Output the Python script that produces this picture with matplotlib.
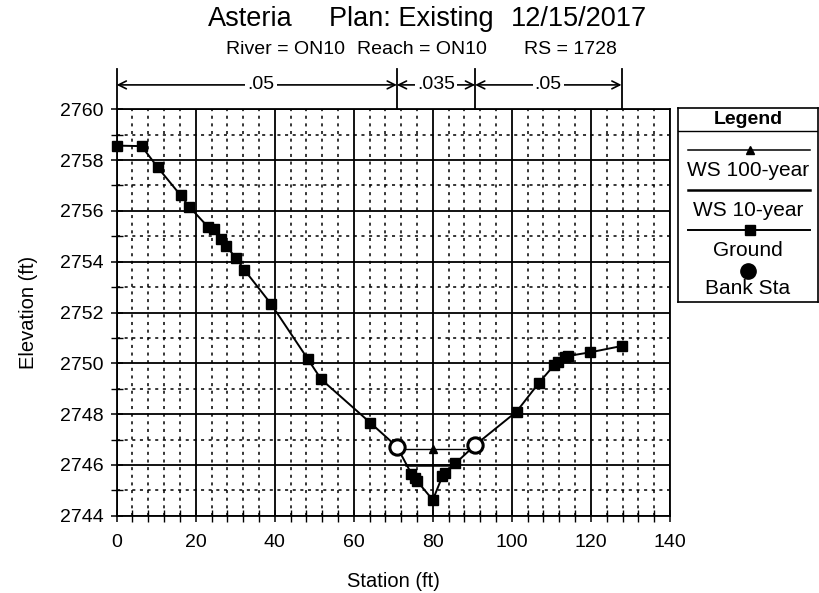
import matplotlib
matplotlib.use('Agg')
import matplotlib.pyplot as plt
from matplotlib.ticker import MultipleLocator
import matplotlib.transforms as mtransforms

plt.rcParams['font.family'] = ['Liberation Sans', 'DejaVu Sans']

# Ground profile (station, elevation)
ground_sta = [0, 6.3, 10.4, 16.2, 18.4, 23.1, 24.6, 26.3, 27.6, 30.3, 32.25, 39.0,
              48.4, 51.75, 64.1, 70.9, 74.6, 75.4, 76.1, 80.0, 82.4, 83.2, 85.7,
              90.7, 101.2, 106.8, 110.7, 111.7, 113.5, 114.3, 119.7, 127.75]
ground_elev = [2758.57, 2758.55, 2757.71, 2756.61, 2756.16, 2755.37, 2755.27, 2754.91,
               2754.63, 2754.13, 2753.69, 2752.35, 2750.16, 2749.37, 2747.67, 2746.72,
               2745.65, 2745.5, 2745.35, 2744.62, 2745.55, 2745.7, 2746.06, 2746.78,
               2748.1, 2749.22, 2749.93, 2750.07, 2750.24, 2750.29, 2750.43, 2750.68]

# Bank stations
bank_sta = [70.9, 90.7]
bank_elev = [2746.72, 2746.78]

# Water surfaces
ws100_sta = [71.4, 80.0, 90.3]
ws100_elev = [2746.62, 2746.62, 2746.62]
ws10_sta = [73.3, 85.5]
ws10_elev = [2745.99, 2745.99]

# Manning's n values
n_vals = ['.05', '.035', '.05']
n_label_sta = [36.5, 80.8, 109.2]

fig = plt.figure(figsize=(8.2, 5.93), dpi=100)
ax = fig.add_axes([0.1423, 0.1303, 0.6747, 0.6854])

ax.plot(ws100_sta, ws100_elev, color='black', lw=1.0, zorder=3)
ax.plot([ws100_sta[1]], [ws100_elev[1]], marker='^', color='black', ms=6, zorder=4)
ax.plot(ws10_sta, ws10_elev, color='black', lw=1.8, zorder=3)
ax.plot(ground_sta, ground_elev, color='black', lw=1.4, marker='s', ms=7, zorder=5,
        clip_on=False)
ax.plot(bank_sta, bank_elev, ls='none', marker='o', ms=11, mfc='white', mec='black',
        mew=2.2, zorder=6)

ax.set_xlim(0, 140)
ax.set_ylim(2744, 2760)
ax.xaxis.set_major_locator(MultipleLocator(20))
ax.xaxis.set_minor_locator(MultipleLocator(4))
ax.yaxis.set_major_locator(MultipleLocator(2))
ax.yaxis.set_minor_locator(MultipleLocator(1))
ax.grid(which='major', color='black', lw=1.3)
ax.grid(which='minor', color='black', lw=1.1, ls=(0, (2, 3)))
ax.tick_params(which='major', direction='inout', length=9, width=1.1, labelsize=14)
ax.tick_params(axis='x', which='major', pad=9)
ax.tick_params(axis='y', which='major', pad=5)
ax.tick_params(which='minor', direction='inout', length=8, width=1)
for s in ax.spines.values():
    s.set_linewidth(1.3)
ax.set_xlabel('Station (ft)', fontsize=14.5, labelpad=15)
ax.set_ylabel('Elevation (ft)', fontsize=14.5, labelpad=16)

# Title
fig.text(208 / 820, 1 - 19 / 593, 'Asteria', fontsize=19.5, va='center', ha='left')
fig.text(329 / 820, 1 - 19 / 593, 'Plan: Existing', fontsize=19.5, va='center', ha='left')
fig.text(511 / 820, 1 - 19 / 593, '12/15/2017', fontsize=19.5, va='center', ha='left')
fig.text(226 / 820, 1 - 49 / 593, 'River = ON10', fontsize=14, va='center', ha='left')
fig.text(357 / 820, 1 - 49 / 593, 'Reach = ON10', fontsize=14, va='center', ha='left')
fig.text(524 / 820, 1 - 49 / 593, 'RS = 1728', fontsize=14, va='center', ha='left')

# Manning's n segments
trans = mtransforms.blended_transform_factory(ax.transData, ax.transAxes)
breaks = [ground_sta[0]] + bank_sta + [ground_sta[-1]]
for b in breaks:
    ax.plot([b, b], [1.0, 1.1], transform=trans, color='black', lw=1.3, clip_on=False)
for i, n in enumerate(n_vals):
    ax.annotate('', xy=(breaks[i], 1.06), xytext=(breaks[i + 1], 1.06),
                xycoords=trans, textcoords=trans,
                arrowprops=dict(arrowstyle='<->', lw=1.2, color='black',
                                shrinkA=0, shrinkB=0, mutation_scale=14))
    ax.text(n_label_sta[i], 1.06, n, transform=trans, ha='center', va='center',
            fontsize=14, bbox=dict(facecolor='white', edgecolor='none', pad=1.5))

# Legend
lg = fig.add_axes([678 / 820, 1 - 302 / 593, 140 / 820, 194 / 593])
lg.set_xlim(0, 140)
lg.set_ylim(302, 108)
lg.set_xticks([])
lg.set_yticks([])
for s in lg.spines.values():
    s.set_linewidth(1.2)
lg.axhline(131, color='black', lw=1.0)
lg.text(70, 119, 'Legend', ha='center', va='center', fontsize=14, fontweight='bold')
lg.plot([10, 132], [150, 150], color='black', lw=1.1)
lg.plot([72], [150], marker='^', color='black', ms=6)
lg.text(70, 170, 'WS 100-year', ha='center', va='center', fontsize=15)
lg.plot([10, 132], [190, 190], color='black', lw=1.8)
lg.text(70, 210, 'WS 10-year', ha='center', va='center', fontsize=15)
lg.plot([10, 132], [230, 230], color='black', lw=1.4)
lg.plot([72], [230], marker='s', color='black', ms=7)
lg.text(70, 250, 'Ground', ha='center', va='center', fontsize=15)
lg.plot([70], [271], marker='o', color='black', ms=11)
lg.text(70, 289, 'Bank Sta', ha='center', va='center', fontsize=15)

fig.savefig('out.png', dpi=100)
